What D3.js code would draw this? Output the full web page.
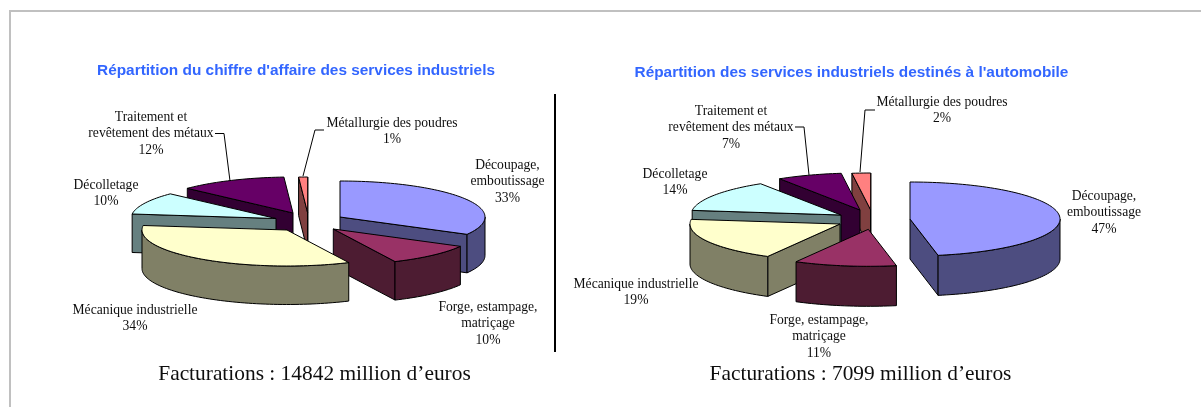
<!DOCTYPE html>
<html><head><meta charset="utf-8">
<script src="https://cdn.jsdelivr.net/npm/d3@7/dist/d3.min.js"></script>
<style>html,body{margin:0;padding:0;background:#fff}svg{display:block}</style>
</head><body><svg id="c" width="1201" height="407"></svg>
<script>
const categories = ["Découpage, emboutissage","Forge, estampage, matriçage","Mécanique industrielle","Décolletage","Traitement et revêtement des métaux","Métallurgie des poudres"];
const valuesLeft = [33,10,34,10,12,1];
const valuesRight = [47,11,19,14,7,2];
const topColors = ["#9999FF","#993366","#FFFFCC","#CCFFFF","#660066","#FF8080"];
const sideColors = ["#4D4D80","#4D1A33","#808066","#668080","#330033","#804040"];
const titles = ["Répartition du chiffre d'affaire des services industriels","Répartition des services industriels destinés à l'automobile"];
const totals = ["Facturations : 14842 million d’euros","Facturations : 7099 million d’euros"];

const charts = [
 {values:valuesLeft, rx:145, ry:36, depth:38.5,
  apex:[[340,217],[333.3,229],[287,230],[276,218.5],[293,213],[307.7,213]],
  order:[5,4,3,0,1,2],
  title:{x:296,y:75}, total:{x:314.5,y:380},
  labels:[
   {l:["Découpage,","emboutissage","33%"],x:507.5,y:169},
   {l:["Forge, estampage,","matriçage","10%"],x:488,y:311},
   {l:["Mécanique industrielle","34%"],x:135,y:314},
   {l:["Décolletage","10%"],x:106,y:189},
   {l:["Traitement et","revêtement des métaux","12%"],x:151,y:121},
   {l:["Métallurgie des poudres","1%"],x:392,y:127}],
  leaders:[{i:4,pts:[[215,133.5],[224,133.5],[230,181]]},{i:5,pts:[[324,130],[315,130],[303,176]]}]},
 {values:valuesRight, rx:150, ry:37, depth:40,
  apex:[[910,219],[868.3,229.3],[840,224],[841,215],[860,210],[870.7,210]],
  order:[5,4,3,0,2,1],
  title:{x:851.5,y:77}, total:{x:860.5,y:380},
  labels:[
   {l:["Découpage,","emboutissage","47%"],x:1104,y:200},
   {l:["Forge, estampage,","matriçage","11%"],x:819,y:324},
   {l:["Mécanique industrielle","19%"],x:636,y:288},
   {l:["Décolletage","14%"],x:675,y:178},
   {l:["Traitement et","revêtement des métaux","7%"],x:731,y:115},
   {l:["Métallurgie des poudres","2%"],x:942,y:106}],
  leaders:[{i:4,pts:[[795,127],[804,127],[809,175]]},{i:5,pts:[[875,110],[865,110],[860,172]]}]}
];

const svg = d3.select("#c");
const serif = "'Liberation Serif','Times New Roman',serif";
svg.append("path").attr("d","M1201,11H10V407").attr("fill","none").attr("stroke","#c0c0c0").attr("stroke-width",2);
const defs = svg.append("defs");
defs.append("filter").attr("id","soft").attr("x","-5%").attr("y","-5%").attr("width","110%").attr("height","110%")
  .append("feGaussianBlur").attr("stdDeviation",0.35);
const root = svg.append("g").attr("filter","url(#soft)");
root.append("line").attr("x1",555).attr("x2",555).attr("y1",94).attr("y2",352).attr("stroke","#000").attr("stroke-width",2);

const line = d3.line();
const pie = d3.pie().sort(null).value(d=>d).startAngle(0).endAngle(2*Math.PI);

charts.forEach((c,ci)=>{
  const g = root.append("g");
  const arcs = pie(c.values);
  const P = (i,t,dy=0)=>[c.apex[i][0]+c.rx*Math.sin(t), c.apex[i][1]-c.ry*Math.cos(t)+dy];
  const rim = (i,a,b,dy=0)=>{
    const n=Math.max(2,Math.ceil((b-a)/0.03)), s=d3.scaleLinear().domain([0,n]).range([a,b]);
    return d3.range(n+1).map(k=>P(i,s(k),dy));
  };
  c.order.forEach(i=>{
    const {startAngle:a,endAngle:b} = arcs[i];
    const [ax,ay] = c.apex[i];
    const wall = pts => g.append("path").attr("d",line(pts)+"Z").attr("fill",sideColors[i]).attr("stroke","#000").attr("stroke-width",1).attr("stroke-linejoin","round");
    if (Math.sin(a)<0) wall([[ax,ay],P(i,a),P(i,a,c.depth),[ax,ay+c.depth]]);
    if (Math.sin(b)>0) wall([[ax,ay],P(i,b),P(i,b,c.depth),[ax,ay+c.depth]]);
    const r0=Math.max(a,Math.PI/2), r1=Math.min(b,3*Math.PI/2);
    if (r1>r0) wall(rim(i,r0,r1).concat(rim(i,r0,r1,c.depth).reverse()));
    g.append("path").attr("d",line([[ax,ay]].concat(rim(i,a,b)))+"Z").attr("fill",topColors[i]).attr("stroke","#000").attr("stroke-width",1).attr("stroke-linejoin","round");
  });
  c.leaders.forEach(d=>g.append("path").attr("d",line(d.pts)).attr("fill","none").attr("stroke","#000").attr("stroke-width",1));
  c.labels.forEach(d=>{
    const t=g.append("text").attr("text-anchor","middle").attr("font-family",serif).attr("font-size",13.6).attr("fill","#111");
    d.l.forEach((s,k)=>t.append("tspan").attr("x",d.x).attr("y",d.y+k*16.3).text(s));
  });
  g.append("text").attr("x",c.title.x).attr("y",c.title.y).attr("text-anchor","middle").attr("font-family","'Liberation Sans',Arial,sans-serif").attr("font-weight","bold").attr("font-size",15.4).attr("fill","#3366FF").text(titles[ci]);
  g.append("text").attr("x",c.total.x).attr("y",c.total.y).attr("text-anchor","middle").attr("font-family",serif).attr("font-size",21.4).attr("fill","#111").text(totals[ci]);
});
</script></body></html>
